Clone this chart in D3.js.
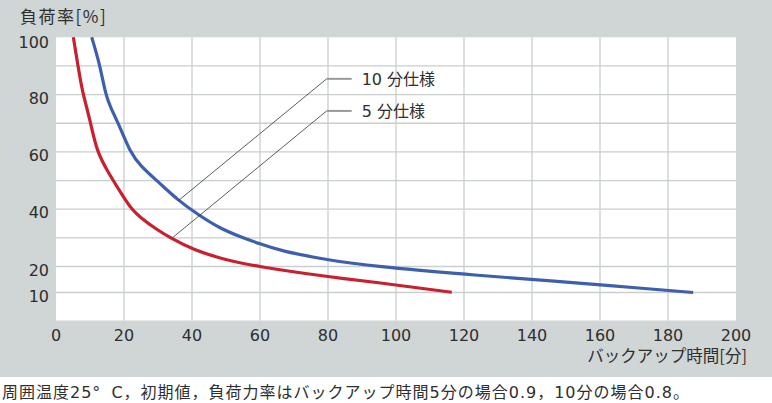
<!DOCTYPE html>
<html><head><meta charset="utf-8">
<script src="https://cdn.jsdelivr.net/npm/d3@7"></script>
<style>
html,body{margin:0;padding:0;background:#fff;}
svg{display:block;}
</style></head>
<body>
<svg id="chart" width="772" height="403"></svg>
<script>
// ---- data ----
const xTicks = [0, 20, 40, 60, 80, 100, 120, 140, 160, 180, 200];
const yTicks = [10, 20, 40, 60, 80, 100];
const yGrid = [10, 20, 30, 40, 50, 60, 70, 80, 90, 100];

const minutes10 = [10.5, 12.8, 14.6, 15.9, 18.8, 21.8, 24.7, 30.6, 36, 41.9, 48.2, 54.1, 60, 65.9, 79.6, 93.8, 120.1, 148.2, 160.5, 187.4];
const load10    = [100, 90.9, 80, 75.8, 68.8, 60, 55.2, 49, 43, 38, 33.3, 30.4, 27.9, 25.5, 22.3, 20, 17.0, 14.2, 12.9, 10];

const minutes5 = [5.1, 7.1, 8, 10, 12, 15.5, 20.4, 22.3, 24.7, 29.6, 34, 40.4, 49.2, 59, 79.6, 92.4, 116.4];
const load5    = [100, 85.4, 80, 71.2, 60, 52.5, 43.2, 40, 37.2, 32.9, 29.8, 25.8, 22.5, 20, 16.1, 14.2, 10.1];

const seriesNames = ["10 分仕様", "5 分仕様"];
// annotation: anchor on curve (minutes, load) and elbow (minutes, load)
const annoAnchorX = [36, 34];
const annoAnchorY = [43, 29.8];
const annoElbowX = [79.6, 79.6];
const annoElbowY = [85.5, 74.3];

const yTitle = "負荷率[%]";
const xTitle = "バックアップ時間[分]";
const captionA = "周囲温度25°";
const captionB = "C，初期値，負荷力率はバックアップ時間5分の場合0.9，10分の場合0.8。";

// ---- drawing ----
const svg = d3.select("#chart");
const x = d3.scaleLinear().domain([0, 200]).range([56, 736]);
const y = d3.scaleLinear().domain([0, 10, 20, 100]).range([320.5, 292.5, 266.5, 37.3]);

const textColor = "#2e2e2e";
const numFont = "'DejaVu Sans', 'Noto Sans CJK JP', sans-serif";
const cjkFont = "'Noto Sans CJK JP', sans-serif";

// gray panel
svg.append("rect").attr("x", 0).attr("y", 0).attr("width", 772).attr("height", 377).attr("fill", "#d0d5d5");
// white plot area
svg.append("rect").attr("x", x(0)).attr("y", y(100)).attr("width", x(200) - x(0)).attr("height", y(0) - y(100)).attr("fill", "#fff");

// grid
const grid = svg.append("g").attr("stroke", "#c9cece").attr("stroke-width", 1.3);
grid.selectAll("line.v").data(xTicks.filter(d => d > 0 && d < 200)).join("line")
  .attr("x1", d => x(d)).attr("x2", d => x(d)).attr("y1", y(100)).attr("y2", y(0));
grid.selectAll("line.h").data(yGrid.filter(d => d < 100)).join("line")
  .attr("y1", d => y(d)).attr("y2", d => y(d)).attr("x1", x(0)).attr("x2", x(200));

// y tick labels
svg.append("g").selectAll("text").data(yTicks).join("text")
  .attr("x", 49).attr("y", d => y(d) + (d === 100 ? 11 : 9))
  .attr("text-anchor", "end").attr("font-family", numFont).attr("font-size", 16)
  .attr("fill", textColor).text(d => d);

// x tick labels
svg.append("g").selectAll("text").data(xTicks).join("text")
  .attr("x", d => x(d)).attr("y", 340.5)
  .attr("text-anchor", "middle").attr("font-family", numFont).attr("font-size", 16)
  .attr("fill", textColor).text(d => d);

// titles
svg.append("text").attr("x", 20).attr("y", 23).attr("font-family", cjkFont).attr("font-size", 17)
  .attr("letter-spacing", 1.5).attr("fill", textColor).text(yTitle);
svg.append("text").attr("x", 747).attr("y", 362).attr("text-anchor", "end").attr("font-family", cjkFont).attr("font-size", 16.5)
  .attr("fill", textColor).text(xTitle);
const cap = svg.append("text").attr("x", 2).attr("y", 398).attr("font-family", numFont).attr("font-size", 16)
  .attr("letter-spacing", 1.0).attr("fill", textColor);
cap.append("tspan").text(captionA);
cap.append("tspan").attr("dx", 10).text(captionB);

// curves
const line = d3.line().x(d => x(d[0])).y(d => y(d[1])).curve(d3.curveBasis);
const pts10 = minutes10.map((m, i) => [m, load10[i]]);
const pts5 = minutes5.map((m, i) => [m, load5[i]]);
svg.append("path").attr("d", line(pts10)).attr("fill", "none").attr("stroke", "#3e5fae").attr("stroke-width", 3.2).attr("stroke-linejoin", "round");
svg.append("path").attr("d", line(pts5)).attr("fill", "none").attr("stroke", "#c8202e").attr("stroke-width", 3.2).attr("stroke-linejoin", "round");

// annotations
seriesNames.forEach((name, i) => {
  const ex = x(annoElbowX[i]), ey = y(annoElbowY[i]);
  svg.append("line").attr("x1", x(annoAnchorX[i])).attr("y1", y(annoAnchorY[i])).attr("x2", ex).attr("y2", ey)
    .attr("stroke", "#333").attr("stroke-width", 0.8);
  svg.append("line").attr("x1", ex).attr("y1", ey).attr("x2", ex + 25).attr("y2", ey)
    .attr("stroke", "#999").attr("stroke-width", 2);
  svg.append("text").attr("x", ex + 35).attr("y", ey + 6.5).attr("font-family", numFont).attr("font-size", 16)
    .attr("fill", textColor).text(name);
});
</script>
</body></html>
